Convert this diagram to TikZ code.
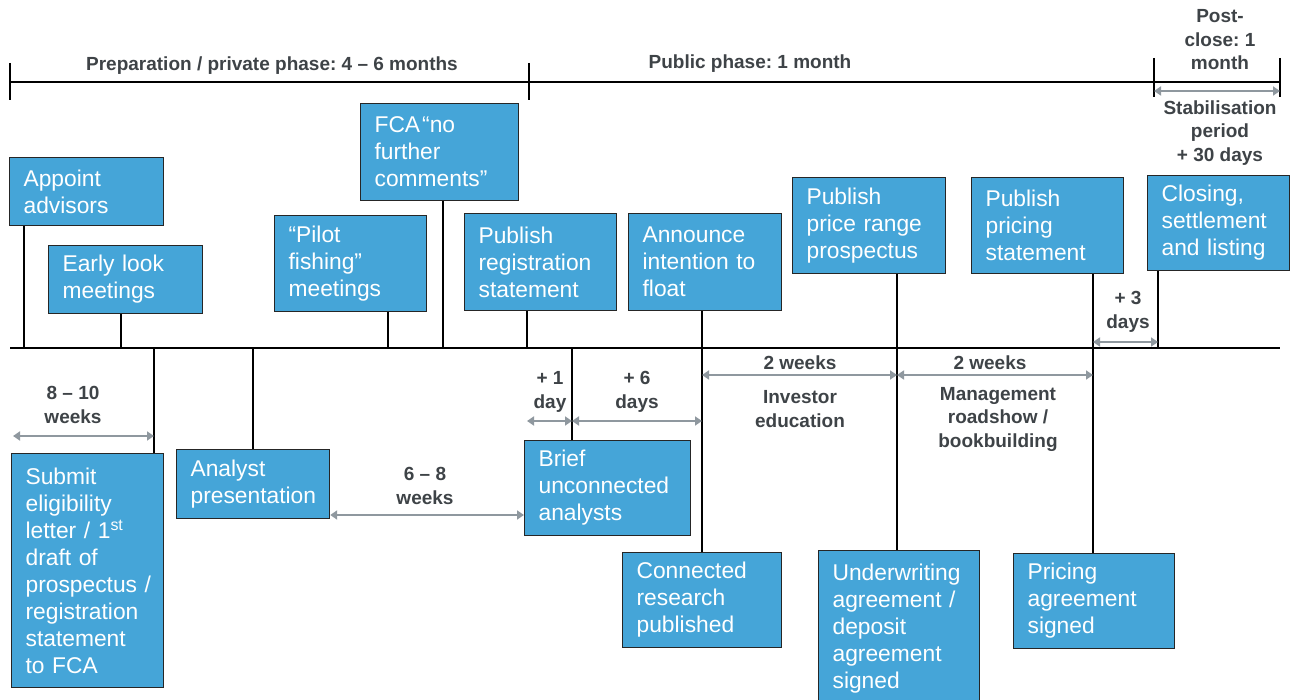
\documentclass[tikz,border=0pt]{standalone}
\usepackage{fontspec}
\setmainfont{Liberation Sans}
\usetikzlibrary{arrows.meta, positioning, calc}
\definecolor{ipoblue}{HTML}{45A5D8}
\definecolor{tagtext}{HTML}{3E4347}
\definecolor{spangrey}{HTML}{8F989F}
\frenchspacing

\begin{document}
\begin{tikzpicture}[x=1pt, y=-1pt,
                event/.style={draw=black!85, line width=1.2pt, fill=ipoblue, text=white,
                              anchor=north west, align=left, inner xsep=14pt, inner ysep=0pt,
                              font=\fontsize{22.8}{27}\selectfont},
                tag/.style={text=tagtext, align=center, inner sep=0pt,
                            font=\fontsize{19}{23.5}\selectfont\bfseries},
                stem/.style={line width=1.8pt, black},
                tick/.style={line width=1.2pt, black},
                span/.style={line width=2.5pt, spangrey,
                             {Triangle[length=7pt,width=9pt]}-{Triangle[length=7pt,width=9pt]}}]

                \useasboundingbox (0,0) rectangle (1291,700);
                \clip (0,0) rectangle (1291,700);

                % Phase bar
                \coordinate (ph-a) at (10,82);
                \coordinate (ph-b) at (529,82);
                \coordinate (ph-c) at (1154,82);
                \coordinate (ph-d) at (1280,82);
                \draw[line width=2.2pt] (ph-a) -- (ph-d);
                \foreach \p in {ph-a, ph-b}
                    \draw[tick] (\p) ++(0,-19) -- ++(0,37);
                \foreach \p in {ph-c, ph-d}
                    \draw[tick] (\p) ++(0,-24) -- ++(0,39);
                \node[tag] (prep-lbl) at (272,66) {Preparation / private phase: 4 -- 6 months};
                \node[tag] (pub-lbl) at (750,64) {Public phase: 1 month};
                \node[tag] (post-lbl) at (1220,40) {Post-\\close: 1\\month};
                \coordinate (stab-y) at (0,91);
                \draw[span] (ph-c |- stab-y) -- (ph-d |- stab-y);
                \node[tag] (stab-lbl) at (1220,133) {Stabilisation\\period\\+ 30 days};

                % Events above the timeline
                \node[event, text width=126pt, minimum height=68pt] (appoint) at (9,157) {Appoint\\advisors};
                \node[event, text width=126pt, minimum height=68pt] (earlylook) at (48,245) {Early look\\meetings};
                \node[event, text width=124pt, minimum height=96pt] (pilot) at (274,215) {“Pilot\\fishing”\\meetings};
                \node[event, text width=130pt, minimum height=97pt] (fca) at (360,103) {FCA\kern2pt“no\\further\\comments”};
                \node[event, text width=124pt, minimum height=97pt] (pubreg) at (464,213) {Publish\\registration\\statement};
                \node[event, text width=125pt, minimum height=97pt] (ito) at (628,213) {Announce\\intention to\\float};
                \node[event, text width=125pt, minimum height=96pt] (pricerange) at (792,177) {Publish\\price range\\prospectus};
                \node[event, text width=124pt, minimum height=96pt] (pricingstmt) at (971,177) {Publish\\pricing\\statement};
                \node[event, text width=114pt, minimum height=95pt] (closing) at (1147,175) {Closing,\\settlement\\and listing};

                % Events below the timeline
                \node[event, text width=124pt, minimum height=234pt] (submit) at (11,453) {Submit\\eligibility\\letter / 1\textsuperscript{st}\\draft of\\\mbox{prospectus /}\\registration\\statement\\to FCA};
                \node[event, text width=125pt, minimum height=69pt] (analyst) at (176,449) {Analyst\\presentation};
                \node[event, text width=138pt, minimum height=95pt] (brief) at (524,440) {Brief\\unconnected\\analysts};
                \node[event, text width=131pt, minimum height=95pt] (connected) at (622,552) {Connected\\research\\published};
                \node[event, text width=133pt, minimum height=156pt] (underwriting) at (818,550) {Underwriting\\agreement /\\deposit\\agreement\\signed};
                \node[event, text width=133pt, minimum height=95pt] (pricingagr) at (1013,553) {Pricing\\agreement\\signed};

                % Timeline
                \coordinate (tl-start) at (10,348);
                \coordinate (tl-end) at (1280,348);
                \draw[line width=2.5pt] (tl-start) -- (tl-end);

                \coordinate (t-appoint) at (24,348);
                \coordinate (t-earlylook) at (121,348);
                \coordinate (t-submit) at (154,348);
                \coordinate (t-analyst) at (253,348);
                \coordinate (t-pilot) at (388,348);
                \coordinate (t-fca) at (443,348);
                \coordinate (t-pubreg) at (527,348);
                \coordinate (t-brief) at (572,348);
                \coordinate (t-ito) at (702,348);
                \coordinate (t-pricerange) at (897,348);
                \coordinate (t-pricingstmt) at (1093,348);
                \coordinate (t-closing) at (1158,348);

                % Stems
                \foreach \e in {appoint, earlylook, pilot, fca, pubreg, closing}
                    \draw[stem] (\e.south -| t-\e) -- (t-\e);
                \foreach \e in {submit, analyst, brief}
                    \draw[stem] (t-\e) -- (\e.north -| t-\e);
                \draw[stem] (ito.south -| t-ito) -- (connected.north -| t-ito);
                \draw[stem] (pricerange.south -| t-pricerange) -- (underwriting.north -| t-pricerange);
                \draw[stem] (pricingstmt.south -| t-pricingstmt) -- (pricingagr.north -| t-pricingstmt);

                % Durations
                \coordinate (w810-y) at (0,436);
                \draw[span] (13,436) -- (t-submit |- w810-y);
                \node[tag] (w810-lbl) at (73,405) {8 -- 10\\weeks};

                \coordinate (w68-y) at (0,515);
                \draw[span] (analyst.east |- w68-y) -- (brief.west |- w68-y);
                \node[tag] (w68-lbl) at (425,486) {6 -- 8\\weeks};

                \coordinate (days-y) at (0,421);
                \draw[span] (t-pubreg |- days-y) -- (t-brief |- days-y);
                \draw[span] (t-brief |- days-y) -- (t-ito |- days-y);
                \node[tag] (d1-lbl) at (550,392) {+ 1\\day};
                \node[tag] (d6-lbl) at (637,392) {+ 6\\days};

                \coordinate (wk-y) at (0,375);
                \draw[span] (t-ito |- wk-y) -- (t-pricerange |- wk-y);
                \draw[span] (t-pricerange |- wk-y) -- (t-pricingstmt |- wk-y);
                \node[tag] (wk1-lbl) at (800,363) {2 weeks};
                \node[tag] (wk2-lbl) at (990,363) {2 weeks};
                \node[tag] (inv-lbl) at (800,409) {Investor\\education};
                \node[tag] (mgmt-lbl) at (998,419) {Management\\roadshow /\\bookbuilding};

                \coordinate (d3-y) at (0,342);
                \draw[span] (t-pricingstmt |- d3-y) -- (t-closing |- d3-y);
                \node[tag] (d3-lbl) at (1128,312) {+ 3\\days};
            \end{tikzpicture}
\end{document}
